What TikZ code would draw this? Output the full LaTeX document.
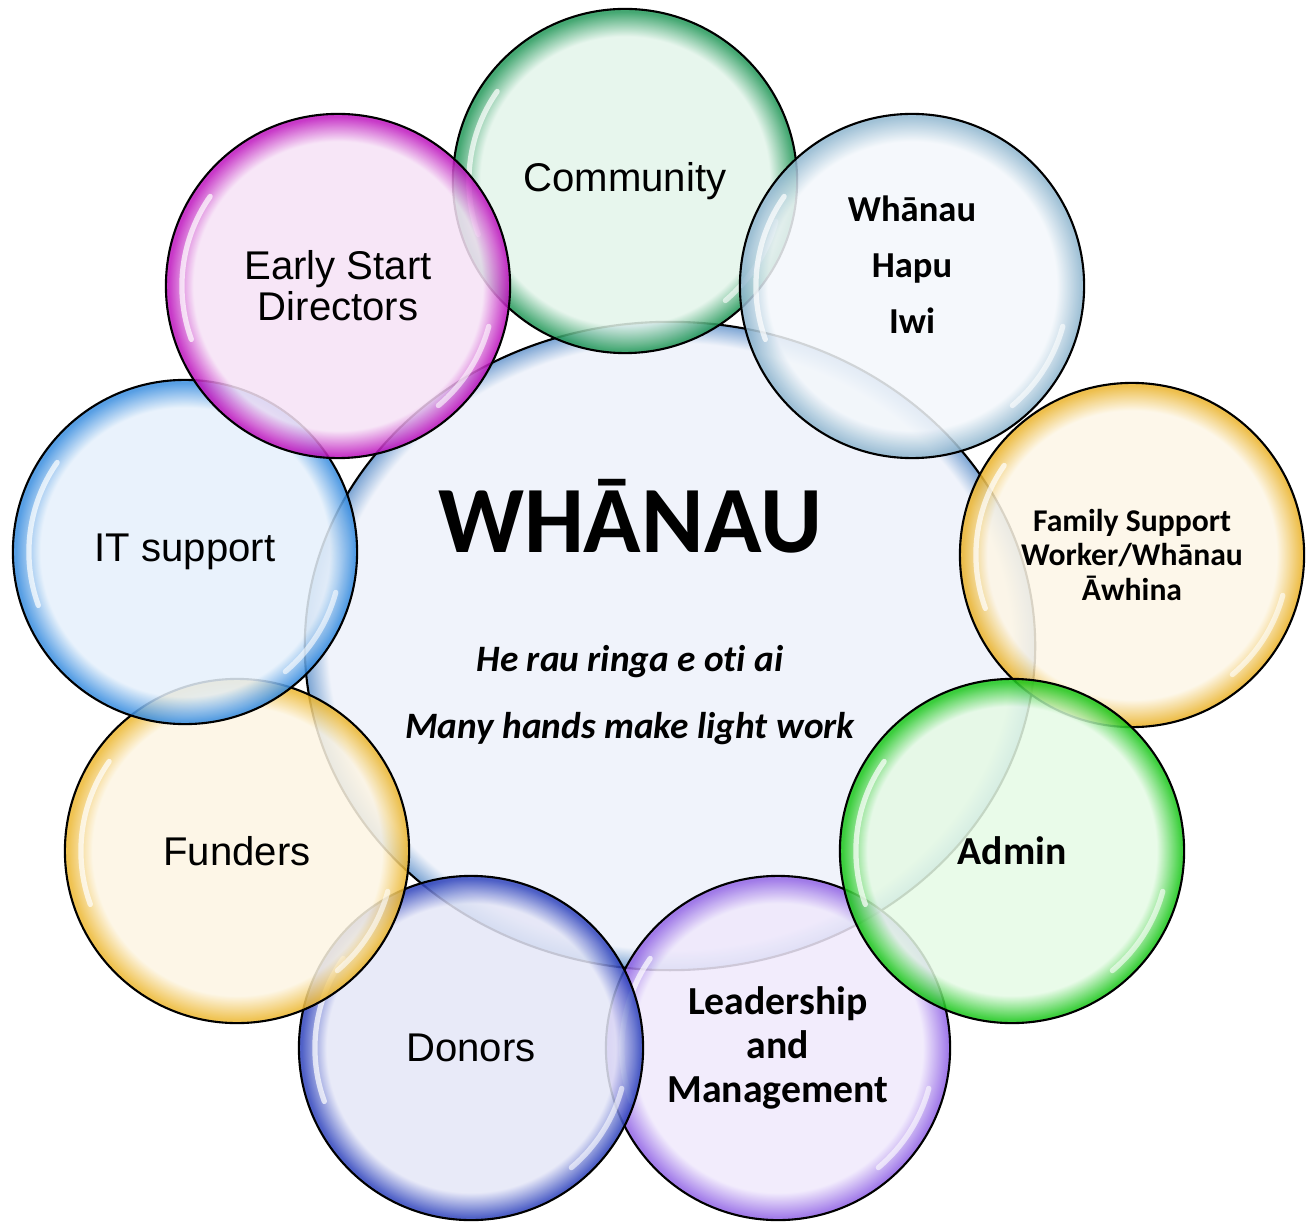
\documentclass[tikz,border=0pt]{standalone}
\usepackage{fontspec}
\setmainfont{Liberation Sans}
\newfontfamily\calfont{Carlito}[Ligatures=NoCommon]
\usetikzlibrary{shapes.geometric}

\definecolor{commEdge}{HTML}{279A5C}\definecolor{commFill}{HTML}{E3F4EA}
\definecolor{iwiEdge}{HTML}{92B8D0}\definecolor{iwiFill}{HTML}{F3F7FB}
\definecolor{fswEdge}{HTML}{EBB530}\definecolor{fswFill}{HTML}{FDF6E6}
\definecolor{esdEdge}{HTML}{BF18BF}\definecolor{esdFill}{HTML}{F6E2F6}
\definecolor{itEdge}{HTML}{3C8FE0}\definecolor{itFill}{HTML}{E5F0FB}
\definecolor{fundEdge}{HTML}{EDB935}\definecolor{fundFill}{HTML}{FDF5E3}
\definecolor{admEdge}{HTML}{1EC81E}\definecolor{admFill}{HTML}{E5FAE5}
\definecolor{donEdge}{HTML}{3347BE}\definecolor{donFill}{HTML}{E4E6F7}
\definecolor{leadEdge}{HTML}{9468E6}\definecolor{leadFill}{HTML}{F0E9FC}
\definecolor{hubEdge}{HTML}{6595CC}\definecolor{hubFill}{HTML}{EDF1FA}

\colorlet{bubfill}{white}
\colorlet{bubedge}{black}
\pgfdeclareradialshading[bubfill,bubedge]{bubble}{\pgfpointorigin}{%
  color(0bp)=(bubfill); color(21bp)=(bubfill); color(24.6bp)=(bubedge); color(50bp)=(bubedge)}
\pgfdeclareradialshading[bubfill,bubedge]{bigbubble}{\pgfpointorigin}{%
  color(0bp)=(bubfill); color(23.4bp)=(bubfill); color(25bp)=(bubedge); color(50bp)=(bubedge)}

\tikzset{
  bubble/.style 2 args={circle, minimum size=3.44cm, inner sep=0pt, align=center,
    /utils/exec={\colorlet{bubedge}{#1}\colorlet{bubfill}{#2}},
    shading=bubble, fill opacity=.86, text opacity=1, draw=black, line width=.6pt,
    path picture={
      \draw[white, line width=1.5pt, opacity=.7, line cap=round]
        (path picture bounding box.center) ++(145:1.56cm) arc[start angle=145, end angle=200, radius=1.56cm];
      \draw[white, line width=1.5pt, opacity=.6, line cap=round]
        (path picture bounding box.center) ++(-50:1.56cm) arc[start angle=-50, end angle=-15, radius=1.56cm];
    }},
  bigbubble/.style 2 args={ellipse, minimum width=7.3cm, minimum height=6.48cm, inner sep=0pt,
    /utils/exec={\colorlet{bubedge}{#1}\colorlet{bubfill}{#2}},
    shading=bigbubble, fill opacity=.86, draw=black, line width=.6pt},
  sanslabel/.style={align=center, font=\fontsize{11.4}{10.5}\selectfont},
  callabel/.style={align=center, font=\calfont\bfseries\fontsize{11.3}{12.5}\selectfont},
  quote/.style={anchor=base, font=\calfont\bfseries\itshape\fontsize{10.6}{12}\selectfont},
}

\begin{document}
\begin{tikzpicture}[x=0.01cm,y=-0.01cm]
  \useasboundingbox (0,0) rectangle (1310,1222);
  % centre
  \node[bigbubble={hubEdge}{hubFill}] (hub) at (670,646) {};
  % ring of bubbles
  \node[bubble={commEdge}{commFill}, sanslabel] (comm) at (625,181) {Community};
  \node[bubble={iwiEdge}{iwiFill}] (iwi) at (912,286) {};
  \node[bubble={fswEdge}{fswFill}, callabel, font=\calfont\bfseries\fontsize{9}{9.7}\selectfont]
    (fsw) at (1132,555) {Family Support\\Worker/Whānau\\Āwhina};
  \node[bubble={leadEdge}{leadFill}, callabel] (lead) at (778,1048) {Leadership\\and\\Management};
  \node[bubble={admEdge}{admFill}, callabel] (adm) at (1012,851) {Admin};
  \node[bubble={donEdge}{donFill}, sanslabel] (don) at (471,1048) {Donors};
  \node[bubble={fundEdge}{fundFill}, sanslabel] (fund) at (237,851) {Funders};
  \node[bubble={itEdge}{itFill}, sanslabel] (it) at (185,552) {IT support};
  \node[bubble={esdEdge}{esdFill}, sanslabel] (esd) at (338,286) {Early Start\\Directors};
  % texts
  \node[callabel, font=\calfont\bfseries\fontsize{10.4}{15.9}\selectfont] (iwiTxt) at (912,265) {Whānau\\Hapu\\Iwi};
  \node[anchor=base, font=\calfont\bfseries\fontsize{27}{30}\selectfont] (hubTitle) at (630,552) {WHĀNAU};
  \node[quote] (maori) at (630,671) {He rau ringa e oti ai};
  \node[quote] (english) at (630,738) {Many hands make light work};
\end{tikzpicture}
\end{document}
